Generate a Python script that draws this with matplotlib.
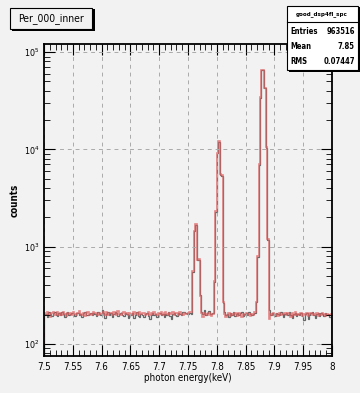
import numpy as np
import matplotlib
matplotlib.use('Agg')
import matplotlib.pyplot as plt
from matplotlib.patches import Rectangle
from matplotlib.ticker import MultipleLocator, LogLocator, NullFormatter

plt.rcParams['font.family'] = ['DejaVu Sans']
plt.rcParams['font.stretch'] = 'condensed'

# histogram: 200 bins of 0.0025 keV between 7.5 and 8.0
x_lo, x_hi, n_bins = 7.5, 8.0, 200

counts_black = [
    198, 205, 190, 212, 201, 195, 208, 214, 200, 193, 206, 199, 211, 203, 188, 207, 213, 197, 204, 209,
    201, 194, 210, 206, 199, 203, 191, 208, 215, 200, 196, 204, 210, 198, 207, 202, 193, 211, 205, 199,
    223, 209, 186, 204, 212, 198, 206, 189, 201, 213, 207, 195, 203, 210, 198, 193, 207, 204, 185, 200,
    196, 208, 183, 200, 211, 194, 190, 205, 199, 187, 203, 209, 192, 181, 200, 206, 198, 205, 191, 199,
    210, 196, 203, 188, 204, 199, 211, 193, 182, 201, 207, 198, 195, 209, 203, 200, 213, 215, 207, 204,
    201, 208, 203, 550, 1430, 1670, 730, 730, 320, 212, 205, 225, 198, 207, 220, 201, 203, 210, 437, 2290,
    9100, 12000, 5500, 5300, 265, 212, 196, 205, 190, 208, 199, 215, 195, 204, 210, 198, 206, 214, 193, 203,
    207, 199, 212, 201, 196, 205, 210, 272, 790, 6900, 34000, 65000, 65000, 42500, 10300, 1170, 225, 196, 208, 201,
    194, 209, 203, 198, 214, 205, 190, 201, 207, 196, 212, 199, 186, 204, 209, 195, 201, 198, 207, 192,
    176, 203, 209, 181, 198, 206, 212, 199, 185, 203, 207, 194, 210, 201, 195, 208, 199, 203, 188, 205,
]

counts_red = [
    207, 196, 212, 201, 190, 209, 215, 198, 204, 211, 197, 206, 200, 214, 203, 195, 208, 202, 210, 199,
    212, 205, 197, 208, 216, 203, 199, 210, 195, 206, 211, 200, 204, 198, 213, 207, 201, 196, 209, 204,
    203, 211, 200, 214, 196, 207, 210, 198, 213, 205, 200, 216, 204, 197, 209, 212, 201, 206, 199, 210,
    205, 198, 212, 203, 208, 196, 215, 201, 206, 210, 199, 204, 212, 197, 207, 201, 214, 203, 198, 209,
    204, 211, 199, 207, 214, 201, 196, 209, 203, 212, 198, 206, 210, 200, 215, 204, 197, 208, 203, 201,
    206, 213, 215, 560, 1450, 1690, 720, 740, 310, 206, 188, 210, 203, 196, 208, 199, 192, 205, 445, 2320,
    9200, 12200, 5600, 5400, 270, 205, 188, 200, 209, 195, 203, 197, 210, 201, 192, 206, 199, 190, 204, 198,
    209, 196, 203, 192, 205, 198, 211, 268, 800, 7000, 34500, 66000, 66000, 43000, 10500, 1190, 180, 201, 196, 207,
    199, 204, 194, 210, 198, 205, 201, 207, 196, 209, 203, 190, 206, 200, 211, 197, 204, 199, 208, 195,
    202, 198, 206, 194, 201, 208, 196, 203, 199, 207, 192, 205, 198, 210, 201, 195, 204, 200, 197, 203,
]

x_ticks = [7.5, 7.55, 7.6, 7.65, 7.7, 7.75, 7.8, 7.85, 7.9, 7.95, 8.0]
x_ticklabels = ['7.5', '7.55', '7.6', '7.65', '7.7', '7.75', '7.8', '7.85', '7.9', '7.95', '8']

hist_title = 'Per_000_inner'
stats_name = 'good_dsp4fl_spc'
stats_rows = [('Entries', '963516'), ('Mean', '7.85'), ('RMS', '0.07447')]

bg = '#f2f2f2'
edges = np.linspace(x_lo, x_hi, n_bins + 1)

fig = plt.figure(figsize=(3.6, 3.93), dpi=100, facecolor=bg)
ax = fig.add_axes([44/360, 1 - 356/393, 288/360, 312/393], facecolor=bg)

ax.stairs(counts_black, edges, color='#666666', lw=0.9)
ax.stairs(counts_red, edges, color='#e06060', lw=1.2, alpha=0.75)

ax.set_yscale('log')
ax.set_xlim(x_lo, x_hi)
ax.set_ylim(75, 121000)

ax.set_xticks(x_ticks)
ax.set_xticklabels(x_ticklabels)
ax.xaxis.set_minor_locator(MultipleLocator(0.01))
ax.yaxis.set_major_locator(LogLocator(base=10, numticks=10))
ax.yaxis.set_minor_locator(LogLocator(base=10, subs=np.arange(2, 10), numticks=10))
ax.yaxis.set_minor_formatter(NullFormatter())

ax.tick_params(which='both', direction='in', top=True, right=True, colors='black')
ax.tick_params(axis='x', labelsize=7)
ax.tick_params(axis='y', labelsize=6.5)
ax.tick_params(which='major', length=8, width=0.8)
ax.tick_params(which='minor', length=4, width=0.6)
ax.tick_params(axis='x', pad=4)
ax.tick_params(axis='y', pad=3)
ax.grid(True, which='major', ls=(0, (4, 4)), color='#aaaaaa', lw=0.7)
for s in ax.spines.values():
    s.set_linewidth(1.3)

ax.set_xlabel('photon energy(keV)', fontsize=7, labelpad=1)
ax.set_ylabel('counts', fontsize=7, fontweight='bold', labelpad=3)

# title box with shadow
fig.patches.append(Rectangle((12/360, 1 - 31/393), 83/360, 22/393, transform=fig.transFigure,
                             facecolor='black', edgecolor='none'))
fig.patches.append(Rectangle((10/360, 1 - 29/393), 82/360, 21/393, transform=fig.transFigure,
                             facecolor=bg, edgecolor='black', lw=0.8))
fig.text(51/360, 1 - 18.5/393, hist_title, ha='center', va='center', fontsize=7.5)

# stats box
fig.patches.append(Rectangle((289/360, 1 - 72/393), 71/360, 65/393, transform=fig.transFigure,
                             facecolor='black', edgecolor='none'))
fig.patches.append(Rectangle((287/360, 1 - 70/393), 71/360, 64/393, transform=fig.transFigure,
                             facecolor='white', edgecolor='black', lw=0.8))
fig.add_artist(plt.Line2D([287/360, 358/360], [1 - 22/393, 1 - 22/393], transform=fig.transFigure,
                          color='black', lw=0.8))
fig.text(322/360, 1 - 14/393, stats_name, ha='center', va='center', fontsize=4.5, fontweight='bold')
for k, (name, val) in enumerate(stats_rows):
    yy = 1 - (31 + 15.5 * k) / 393
    fig.text(290/360, yy, name, ha='left', va='center', fontsize=5.5, fontweight='bold')
    fig.text(355/360, yy, val, ha='right', va='center', fontsize=5.5, fontweight='bold')

fig.savefig('out.png', dpi=100, facecolor=bg)
plt.close('all')
